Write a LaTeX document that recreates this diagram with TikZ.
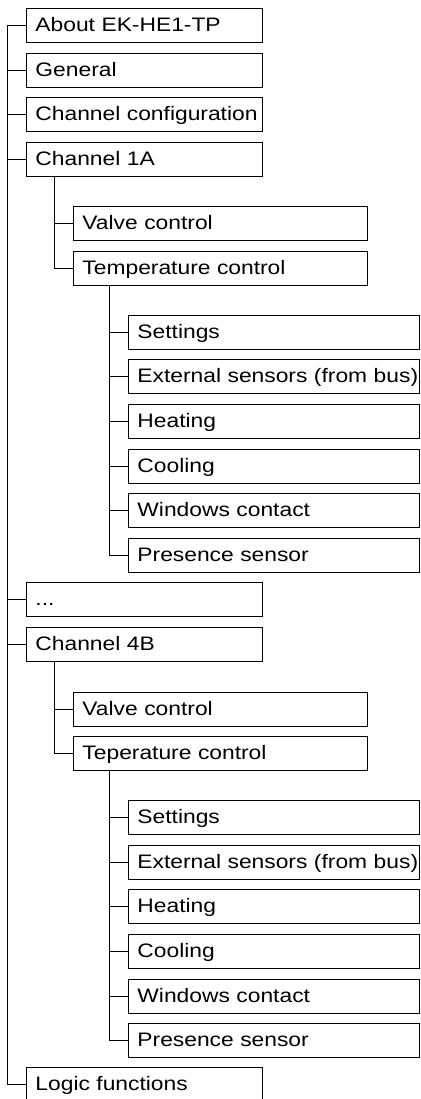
\documentclass[tikz,border=0pt]{standalone}
\usepackage{fontspec}
\setmainfont{Liberation Sans}[FakeStretch=1.17]
\newcommand{\menufont}{\fontsize{19.5}{22}\selectfont}

\begin{document}
\begin{tikzpicture}[x=1pt,y=-1pt,
    box/.style={draw,line width=0.9pt,anchor=north west,minimum height=34pt,
      inner xsep=0pt,inner ysep=0pt,text height=14pt,text depth=2pt,
      font=\menufont,execute at begin node={\hspace*{9pt}}},
    lvla/.style={box,text width=236pt},
    lvlb/.style={box,text width=294pt},
    lvlc/.style={box,text width=291pt},
    link/.style={line width=1pt}]
  \useasboundingbox (0,0) rectangle (420,1099);
  % top level
  \node[lvla] (about)   at (26,8)    {About EK-HE1-TP};
  \node[lvla] (general) at (26,53)   {General};
  \node[lvla] (chconf)  at (26,97)   {Channel configuration};
  \node[lvla] (chA)     at (26,142)  {Channel 1A};
  \node[lvlb] (valveA)  at (73,206)  {Valve control};
  \node[lvlb] (tempA)   at (73,251)  {Temperature control};
  \node[lvlc] (setA)    at (128,315) {Settings};
  \node[lvlc] (extA)    at (128,359) {External sensors (from bus)};
  \node[lvlc] (heatA)   at (128,404) {Heating};
  \node[lvlc] (coolA)   at (128,449) {Cooling};
  \node[lvlc] (winA)    at (128,493) {Windows contact};
  \node[lvlc] (presA)   at (128,538) {Presence sensor};
  \node[lvla] (dots)    at (26,582)  {...};
  \node[lvla] (chB)     at (26,627)  {Channel 4B};
  \node[lvlb] (valveB)  at (73,692)  {Valve control};
  \node[lvlb] (tempB)   at (73,736)  {Teperature control};
  \node[lvlc] (setB)    at (128,800) {Settings};
  \node[lvlc] (extB)    at (128,845) {External sensors (from bus)};
  \node[lvlc] (heatB)   at (128,889) {Heating};
  \node[lvlc] (coolB)   at (128,934) {Cooling};
  \node[lvlc] (winB)    at (128,979) {Windows contact};
  \node[lvlc] (presB)   at (128,1023) {Presence sensor};
  \node[lvla] (logic)   at (26,1067) {Logic functions};
  % trunk
  \draw[link]
    (about.west) -- ++(-18.5,0) |- (logic.west)
    (general.west) -- ++(-18.5,0)
    (chconf.west) -- ++(-18.5,0)
    (chA.west) -- ++(-18.5,0)
    (dots.west) -- ++(-18.5,0)
    (chB.west) -- ++(-18.5,0);
  % channel branches
  \draw[link]
    ([xshift=28pt]chA.south west) |- (tempA.west)
    (valveA.west) -- ++(-19,0)
    ([xshift=28pt]chB.south west) |- (tempB.west)
    (valveB.west) -- ++(-19,0);
  % temperature branches
  \draw[link]
    ([xshift=36pt]tempA.south west) |- (presA.west)
    (setA.west) -- ++(-19,0)
    (extA.west) -- ++(-19,0)
    (heatA.west) -- ++(-19,0)
    (coolA.west) -- ++(-19,0)
    (winA.west) -- ++(-19,0)
    ([xshift=36pt]tempB.south west) |- (presB.west)
    (setB.west) -- ++(-19,0)
    (extB.west) -- ++(-19,0)
    (heatB.west) -- ++(-19,0)
    (coolB.west) -- ++(-19,0)
    (winB.west) -- ++(-19,0);
\end{tikzpicture}
\end{document}
